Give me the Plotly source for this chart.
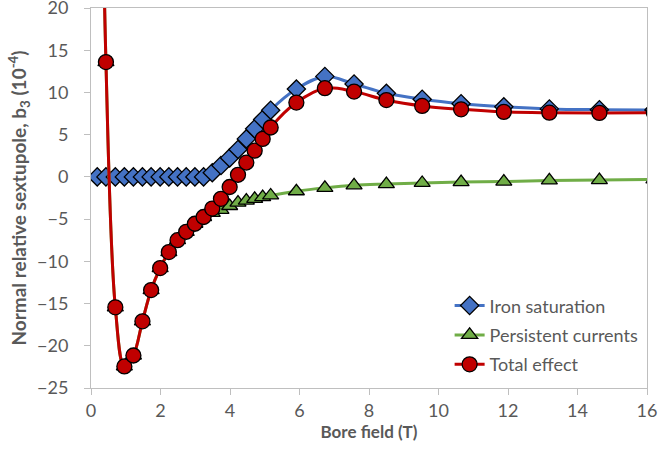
import plotly.graph_objects as go

# Bore field (T)
bore_field = [0.18, 0.43, 0.70, 0.96, 1.22, 1.48, 1.73, 1.99, 2.24, 2.49, 2.74, 2.99, 3.24,
              3.49, 3.74, 3.99, 4.23, 4.47, 4.71, 4.94, 5.17, 5.91, 6.73, 7.57, 8.50,
              9.53, 10.65, 11.88, 13.19, 14.63, 16.20]

iron_saturation = [0, 0, 0, 0, 0, 0, 0, 0, 0, 0, 0, 0, 0,
                   0.5, 1.35, 2.25, 3.25, 4.5, 5.7, 6.8, 7.9, 10.4, 11.9, 11.0, 9.9,
                   9.2, 8.67, 8.3, 8.05, 7.96, 7.93]

persistent_currents = [80, 13.6, -15.45, -22.45, -21.15, -17.1, -13.4, -10.8, -8.9, -7.5, -6.5, -5.55, -4.75,
                       -4.25, -3.9, -3.45, -3.05, -2.8, -2.6, -2.4, -2.2, -1.7, -1.3, -1.0, -0.85,
                       -0.72, -0.62, -0.55, -0.42, -0.38, -0.3]

total_effect = [80, 13.6, -15.45, -22.45, -21.15, -17.1, -13.4, -10.8, -8.9, -7.5, -6.5, -5.55, -4.75,
                -3.75, -2.6, -1.2, 0.25, 1.7, 3.1, 4.5, 5.85, 8.8, 10.5, 10.1, 9.1,
                8.4, 8.0, 7.7, 7.6, 7.57, 7.6]

x_ticks = [0, 2, 4, 6, 8, 10, 12, 14, 16]
y_ticks = [-25, -20, -15, -10, -5, 0, 5, 10, 15, 20]

FONT = "Lato, 'Open Sans', sans-serif"
GREY = "#595959"

fig = go.Figure()

series = [
    ("Iron saturation", iron_saturation, "#4472C4", "diamond", 14),
    ("Persistent currents", persistent_currents, "#70AD47", "triangle-up", 14),
    ("Total effect", total_effect, "#C00000", "circle", 15),
]
for name, vals, col, sym, size in series:
    fig.add_trace(go.Scatter(
        x=bore_field, y=vals, name=name, mode="lines+markers",
        legendgroup=name,
        line=dict(color=col, width=3, shape="spline", smoothing=1.0),
        marker=dict(symbol=sym, size=size, color=col, line=dict(color="black", width=1.3)),
        cliponaxis=True,
    ))

fig.update_layout(
    width=660, height=457,
    margin=dict(l=91, r=13, t=8, b=69, autoexpand=False),
    paper_bgcolor="white", plot_bgcolor="white",
    font=dict(family=FONT, size=18, color=GREY),
    showlegend=True,
    legend=dict(x=0.645, y=0.265, xanchor="left", yanchor="top",
                bgcolor="rgba(255,255,255,0)", font=dict(size=18, color=GREY),
                tracegroupgap=3, itemwidth=30),
    xaxis=dict(
        range=[0, 16], tickvals=x_ticks, showgrid=False, zeroline=False,
        showline=True, linecolor="#BFBFBF", linewidth=1, mirror=True,
        ticks="outside", ticklen=6, tickcolor="#BFBFBF",
        automargin=False, ticklabeloverflow="allow",
        title=dict(text="<b>Bore field (T)</b>", font=dict(size=17, color=GREY), standoff=6),
        tickfont=dict(size=18, color=GREY),
    ),
    yaxis=dict(
        range=[-25, 20], tickvals=y_ticks, showgrid=False, zeroline=False,
        showline=True, linecolor="#BFBFBF", linewidth=1, mirror=True,
        ticks="outside", ticklen=6, tickcolor="#BFBFBF",
        automargin=False, ticklabeloverflow="allow", ticklabelstandoff=12,
        title=dict(text="<b>Normal relative sextupole, b<sub>3</sub> (10<sup>-4</sup>)</b>",
                   font=dict(size=19, color=GREY), standoff=5),
        tickfont=dict(size=18, color=GREY),
    ),
)

# remove the browser's default 8px body margin so the figure sits at the page origin
fig.write_html("out.html", config={"displayModeBar": False},
               post_script="document.body.style.margin='0';")
